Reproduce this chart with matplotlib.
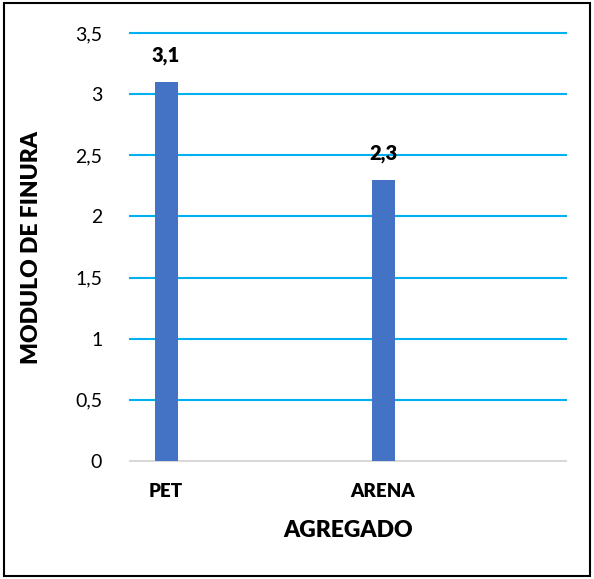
import matplotlib.pyplot as plt
from matplotlib.patches import Rectangle

categorias = ['PET', 'ARENA']
modulo_finura = [3.1, 2.3]
yticks = [0, 0.5, 1, 1.5, 2, 2.5, 3, 3.5]

plt.rcParams['font.family'] = ['Lato', 'DejaVu Sans']

fig = plt.figure(figsize=(5.94, 5.79), dpi=100)
ax = fig.add_axes([130 / 594, 1 - 461 / 579, 436 / 594, 428 / 579])

pos = list(range(len(categorias)))
ax.bar(pos, modulo_finura, width=0.106, color='#4472C4', zorder=3)
for x, v in zip(pos, modulo_finura):
    ax.annotate(f'{v:.1f}'.replace('.', ','), (x, v), xytext=(0, 12),
                textcoords='offset points', ha='center', va='bottom',
                fontsize=14.5, fontweight='heavy')

ax.set_xlim(-0.166, 1.843)
ax.set_ylim(0, 3.5)
ax.set_yticks(yticks)
ax.set_yticklabels([f'{t:g}'.replace('.', ',') for t in yticks], fontsize=14)
ax.set_xticks(pos)
ax.set_xticklabels(categorias, fontsize=13.5, fontweight='heavy')
ax.tick_params(axis='both', length=0)
ax.tick_params(axis='y', pad=20)
ax.tick_params(axis='x', pad=16)

ax.yaxis.grid(True, color='#00B0F0', linewidth=1.5, zorder=0)
for i, t in enumerate(ax.yaxis.get_gridlines()):
    t.set_clip_on(False)
    if i == 0:
        t.set_visible(False)
for s in ['top', 'right', 'left']:
    ax.spines[s].set_visible(False)
ax.spines['bottom'].set_color('#D9D9D9')
ax.spines['bottom'].set_linewidth(1.5)

ax.set_xlabel('AGREGADO', fontsize=16.5, fontweight='heavy', labelpad=14)
ax.set_ylabel('MODULO DE FINURA', fontsize=16.5, fontweight='heavy', labelpad=24)

fig.patches.append(Rectangle((4 / 594, 3 / 579), 586 / 594, 573 / 579,
                             transform=fig.transFigure, fill=False,
                             edgecolor='black', linewidth=1.5))

fig.savefig('out.png', dpi=100)
